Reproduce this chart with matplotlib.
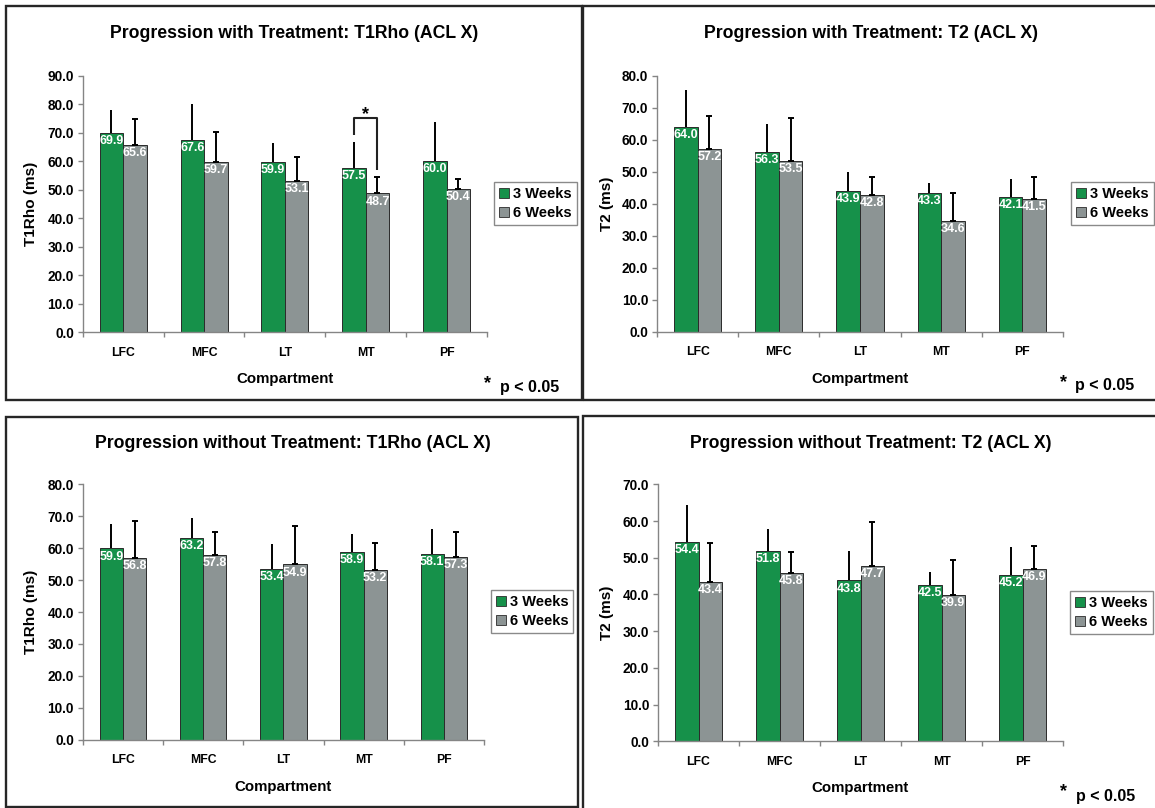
import numpy as np
import matplotlib
matplotlib.use("Agg")
import matplotlib.pyplot as plt
from matplotlib import font_manager
from matplotlib.patches import Rectangle, Patch
from matplotlib.ticker import FormatStrFormatter, FixedLocator

# ---------------------------------------------------------------- data
categories = ["LFC", "MFC", "LT", "MT", "PF"]
series_names = ["3 Weeks", "6 Weeks"]

# Progression with treatment, T1Rho (ms)
t1rho_tx_3wk = [69.9, 67.6, 59.9, 57.5, 60.0]
t1rho_tx_3wk_sd = [8.1, 12.3, 6.4, 9.3, 13.6]
t1rho_tx_6wk = [65.6, 59.7, 53.1, 48.7, 50.4]
t1rho_tx_6wk_sd = [9.1, 10.4, 8.5, 5.9, 3.2]

# Progression with treatment, T2 (ms)
t2_tx_3wk = [64.0, 56.3, 43.9, 43.3, 42.1]
t2_tx_3wk_sd = [11.5, 8.5, 5.9, 3.1, 5.5]
t2_tx_6wk = [57.2, 53.5, 42.8, 34.6, 41.5]
t2_tx_6wk_sd = [10.2, 13.2, 5.5, 8.7, 6.9]

# Progression without treatment, T1Rho (ms)
t1rho_notx_3wk = [59.9, 63.2, 53.4, 58.9, 58.1]
t1rho_notx_3wk_sd = [7.6, 6.4, 7.9, 5.5, 8.0]
t1rho_notx_6wk = [56.8, 57.8, 54.9, 53.2, 57.3]
t1rho_notx_6wk_sd = [11.8, 7.2, 12.1, 8.4, 7.7]

# Progression without treatment, T2 (ms)
t2_notx_3wk = [54.4, 51.8, 43.8, 42.5, 45.2]
t2_notx_3wk_sd = [9.9, 6.1, 8.1, 3.7, 7.6]
t2_notx_6wk = [43.4, 45.8, 47.7, 39.9, 46.9]
t2_notx_6wk_sd = [10.7, 5.8, 12.0, 9.5, 6.4]

# significant 3 vs 6 week differences (category names), per panel
t1rho_tx_significant = ["MT"]

# ---------------------------------------------------------------- style
W, H = 1155, 808
GREEN = "#16914a"
GRAY = "#8c9494"
AXIS_GRAY = "#858585"
FRAME = "#262626"

plt.rcParams["font.family"] = ["Liberation Sans", "DejaVu Sans"]
plt.rcParams["font.weight"] = "bold"

available = {f.name for f in font_manager.fontManager.ttflist}
if "Liberation Sans Narrow" in available:
    value_font, value_size = ["Liberation Sans Narrow", "Liberation Sans"], 9.8
else:
    value_font, value_size = ["Liberation Sans", "DejaVu Sans"], 9.0

fig = plt.figure(figsize=(W / 100, H / 100), dpi=100)
fig.patch.set_facecolor("white")


def fx(x):
    return x / W


def fy(y):
    return 1 - y / H


panels = [
    dict(title="Progression with Treatment: T1Rho (ACL X)", ylabel="T1Rho (ms)",
         ymax=90, m3=t1rho_tx_3wk, s3=t1rho_tx_3wk_sd, m6=t1rho_tx_6wk, s6=t1rho_tx_6wk_sd,
         sig=t1rho_tx_significant,
         axes=(82.8, 487.0, 75.7, 332.3), frame=(5.6, 6.5, 582.0, 400.5),
         title_xy=(294.5, 38.5), ylabel_x=30.6, legend_xy=(494.0, 182.0),
         note_xy=(487.0, 500.0, 388.0, 391.5)),
    dict(title="Progression with Treatment: T2 (ACL X)", ylabel="T2 (ms)",
         ymax=80, m3=t2_tx_3wk, s3=t2_tx_3wk_sd, m6=t2_tx_6wk, s6=t2_tx_6wk_sd,
         sig=[],
         axes=(657.0, 1063.0, 75.7, 331.7), frame=(583.0, 6.5, 1160.0, 400.5),
         title_xy=(870.5, 38.5), ylabel_x=607.5, legend_xy=(1071.0, 182.0),
         note_xy=(1064.0, 1075.0, 387.0, 390.5)),
    dict(title="Progression without Treatment: T1Rho (ACL X)", ylabel="T1Rho (ms)",
         ymax=80, m3=t1rho_notx_3wk, s3=t1rho_notx_3wk_sd, m6=t1rho_notx_6wk, s6=t1rho_notx_6wk_sd,
         sig=[],
         axes=(82.8, 484.0, 484.3, 739.7), frame=(5.6, 416.5, 577.5, 806.5),
         title_xy=(293.0, 448.5), ylabel_x=30.6, legend_xy=(490.7, 590.0),
         note_xy=None),
    dict(title="Progression without Treatment: T2 (ACL X)", ylabel="T2 (ms)",
         ymax=70, m3=t2_notx_3wk, s3=t2_notx_3wk_sd, m6=t2_notx_6wk, s6=t2_notx_6wk_sd,
         sig=[],
         axes=(658.0, 1063.0, 484.3, 741.3), frame=(582.5, 416.0, 1160.0, 812.0),
         title_xy=(870.5, 448.5), ylabel_x=607.5, legend_xy=(1070.0, 590.7),
         note_xy=(1063.0, 1076.0, 796.0, 801.0)),
]

BAR_W = 0.29
x = np.arange(len(categories))

for p in panels:
    x0, x1, yt, yb = p["axes"]
    ax = fig.add_axes([fx(x0), fy(yb), (x1 - x0) / W, (yb - yt) / H])
    ax_w, ax_h = x1 - x0, yb - yt

    m3, s3 = np.array(p["m3"]), np.array(p["s3"])
    m6, s6 = np.array(p["m6"]), np.array(p["s6"])

    ax.bar(x - BAR_W / 2, m3, BAR_W, color=GREEN, edgecolor="#2b2b2b", linewidth=0.7, zorder=2)
    ax.bar(x + BAR_W / 2, m6, BAR_W, color=GRAY, edgecolor="#2b2b2b", linewidth=0.7, zorder=2)

    ax.errorbar(x - BAR_W / 2, m3, yerr=[np.zeros_like(s3), s3], fmt="none",
                ecolor="black", elinewidth=1.4, capsize=0, zorder=3)
    ax.errorbar(x + BAR_W / 2, m6, yerr=[np.zeros_like(s6), s6], fmt="none",
                ecolor="black", elinewidth=1.4, capsize=2.4, capthick=1.4, zorder=3)

    # value labels inside the top of each bar
    for xs, vals in ((x - BAR_W / 2, m3), (x + BAR_W / 2, m6)):
        for xi, v in zip(xs, vals):
            ax.annotate(f"{v:.1f}", (xi, v), xytext=(0, -1.5), textcoords="offset points",
                        ha="center", va="top", color="white", fontsize=value_size,
                        family=value_font, fontweight="bold", zorder=4)

    # significance brackets
    for name in p["sig"]:
        i = categories.index(name)
        xl, xr = i - BAR_W / 2, i + BAR_W / 2
        top = max(m3[i] + s3[i], m6[i] + s6[i]) + 8.3
        ax.plot([xl, xl, xr, xr],
                [m3[i] + s3[i] + 2.4, top, top, m6[i] + s6[i] + 2.3],
                color="#222222", lw=1.5, zorder=3, solid_capstyle="butt")
        ax.annotate("*", (i, top), xytext=(0, -1), textcoords="offset points",
                    ha="center", va="baseline", fontsize=13, fontweight="bold")

    ax.set_xlim(-0.5, len(categories) - 0.5)
    ax.set_ylim(0, p["ymax"])
    ax.set_yticks(np.arange(0, p["ymax"] + 1, 10))
    ax.yaxis.set_major_formatter(FormatStrFormatter("%.1f"))
    ax.set_xticks(x)
    ax.set_xticklabels(categories)
    ax.xaxis.set_minor_locator(FixedLocator(np.arange(-0.5, len(categories), 1.0)))

    for side in ("top", "right"):
        ax.spines[side].set_visible(False)
    for side in ("left", "bottom"):
        ax.spines[side].set_color(AXIS_GRAY)
        ax.spines[side].set_linewidth(1.0)

    ax.tick_params(axis="y", which="major", direction="out", length=3.6, width=1.0,
                   color=AXIS_GRAY, pad=2.8, labelsize=9.8)
    ax.tick_params(axis="x", which="major", length=0, pad=10.6, labelsize=8.8)
    ax.tick_params(axis="x", which="minor", direction="out", length=3.6, width=1.0,
                   color=AXIS_GRAY)
    for lab in ax.get_xticklabels() + ax.get_yticklabels():
        lab.set_fontweight("bold")

    ax.set_xlabel("Compartment", fontsize=10.8, fontweight="bold", va="baseline")
    ax.xaxis.set_label_coords(0.5, -51.0 / ax_h)
    ax.set_ylabel(p["ylabel"], fontsize=11, fontweight="bold", va="center")
    ax.yaxis.set_label_coords((p["ylabel_x"] - x0) / ax_w, 0.5)

    lx, ly = p["legend_xy"]
    handles = [Patch(facecolor=GREEN, edgecolor="#2b2b2b", linewidth=0.6, label=series_names[0]),
               Patch(facecolor=GRAY, edgecolor="#2b2b2b", linewidth=0.6, label=series_names[1])]
    leg = ax.legend(handles=handles, loc="upper left", bbox_to_anchor=(fx(lx), fy(ly)),
                    bbox_transform=fig.transFigure, borderaxespad=0, frameon=True,
                    fancybox=False, framealpha=1, edgecolor="#8a8a8a",
                    prop={"weight": "bold", "size": 10.5},
                    handlelength=0.7, handleheight=0.7, handletextpad=0.25,
                    borderpad=0.35, labelspacing=0.35)
    leg.get_frame().set_linewidth(1.0)

    fig.text(fx(p["title_xy"][0]), fy(p["title_xy"][1]), p["title"], ha="center",
             va="baseline", fontsize=12.7, fontweight="bold")

    if p["note_xy"] is not None:
        sx, px_, sy, py = p["note_xy"]
        fig.text(fx(sx), fy(sy), "*", ha="center", va="baseline", fontsize=13,
                 fontweight="bold")
        fig.text(fx(px_), fy(py), "p < 0.05", ha="left", va="baseline", fontsize=11.5,
                 fontweight="bold")

    fl, ft, fr, fb = p["frame"]
    fig.patches.append(Rectangle((fx(fl), fy(fb)), (fr - fl) / W, (fb - ft) / H,
                                 transform=fig.transFigure, fill=False,
                                 edgecolor=FRAME, linewidth=1.7, zorder=10))

fig.savefig("out.png", dpi=100, facecolor="white")
